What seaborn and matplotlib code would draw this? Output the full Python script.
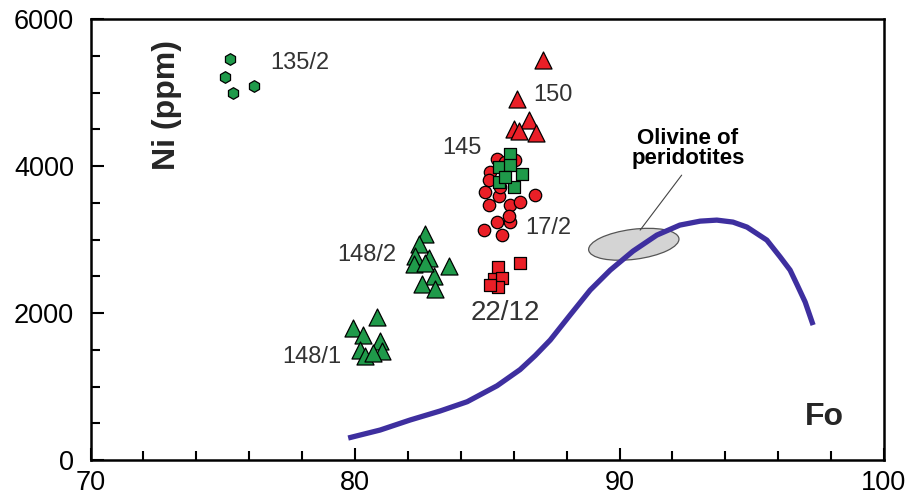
import matplotlib
matplotlib.use("Agg")
import matplotlib.pyplot as plt
import matplotlib.transforms as mtransforms
from matplotlib.patches import Ellipse
from matplotlib.ticker import MultipleLocator
import seaborn as sns

sns.set_style("ticks")
plt.rcParams['font.family'] = ['Liberation Sans', 'DejaVu Sans']

# Olivine compositions: Fo (mol %) vs Ni (ppm)
fo_135_2 = [75.27, 75.10, 75.40, 76.17]
ni_135_2 = [5462, 5216, 4992, 5082]

fo_148_1 = [80.82, 79.94, 80.31, 80.95, 80.19, 80.38, 81.01, 80.69]
ni_148_1 = [1950, 1794, 1704, 1615, 1503, 1413, 1481, 1459]

fo_148_2 = [82.65, 82.40, 82.27, 82.78, 82.21, 83.57, 82.97, 82.53, 83.03, 82.65]
ni_148_2 = [3069, 2935, 2778, 2755, 2667, 2644, 2510, 2398, 2331, 2684]

fo_150 = [87.11, 86.11, 86.56, 86.02, 86.20, 86.84]
ni_150 = [5449, 4912, 4626, 4500, 4478, 4446]

fo_17_2 = [85.37, 85.11, 85.05, 86.82, 85.05, 85.87, 85.43, 84.86, 85.37, 85.87,
           85.56, 85.81, 85.68, 86.06, 84.92, 86.25, 85.49]
ni_17_2 = [4097, 3919, 3807, 3606, 3472, 3472, 3597, 3136, 3238, 3238,
           3060, 3315, 4053, 4080, 3650, 3516, 3717]

fo_145 = [85.87, 85.43, 86.31, 85.43, 86.00, 85.84, 85.68]
ni_145 = [4164, 3986, 3896, 3784, 3717, 4009, 3852]

fo_22_12 = [86.25, 85.39, 85.24, 85.55, 85.39, 85.11]
ni_22_12 = [2675, 2621, 2465, 2479, 2353, 2375]

# Reference curve of Ni in olivine
curve_fo = [79.74, 80.95, 82.08, 83.21, 84.24, 85.37, 86.24, 86.81, 87.38,
            88.13, 88.89, 89.65, 90.51, 91.41, 92.28, 93.05, 93.68, 94.29,
            94.82, 95.57, 96.07, 96.45, 96.72, 97.02, 97.32]
curve_ni = [299, 408, 544, 666, 793, 1010, 1230, 1420, 1632,
            1972, 2312, 2584, 2842, 3060, 3196, 3250, 3264, 3237,
            3169, 2992, 2765, 2584, 2380, 2149, 1836]

group_labels = ["135/2", "150", "145", "17/2", "22/12", "148/2", "148/1"]
label_fo = [76.79, 86.74, 84.79, 86.43, 85.70, 81.58, 79.50]
label_ni = [5395, 4964, 4239, 3151, 1995, 2788, 1405]
label_ha = ["left", "left", "right", "left", "center", "right", "right"]
label_size = [17, 17, 17, 17, 20, 17, 17]

RED = "#ea1f27"
GREEN = "#1f9a4a"
CURVE = "#3e2f9f"

fig = plt.figure(figsize=(9.06, 4.98), dpi=100)
ax = fig.add_axes([0.1, 0.0763, 0.8757, 0.8855])

# Peridotite olivine field
peri = Ellipse((0, 0), width=91, height=30, angle=7.3,
               facecolor="#d4d4d4", edgecolor="#555555", linewidth=0.9, zorder=2,
               transform=mtransforms.Affine2D().scale(fig.dpi / 100)
               + mtransforms.ScaledTranslation(90.54, 2935, ax.transData))
ax.add_patch(peri)
ax.plot([92.35, 90.78], [3876, 3128], color="#444444", lw=0.8, zorder=2)

sns.lineplot(x=curve_fo, y=curve_ni, sort=False, estimator=None, color=CURVE,
             linewidth=3.8, ax=ax, zorder=4, solid_joinstyle="round",
             solid_capstyle="butt")

kw = dict(edgecolor="black", linewidth=0.9, ax=ax, zorder=3, legend=False)
sns.scatterplot(x=fo_135_2, y=ni_135_2, marker="h", s=70, color=GREEN, **kw)
sns.scatterplot(x=fo_148_1, y=ni_148_1, marker="^", s=150, color=GREEN, **kw)
sns.scatterplot(x=fo_148_2, y=ni_148_2, marker="^", s=150, color=GREEN, **kw)
sns.scatterplot(x=fo_150, y=ni_150, marker="^", s=150, color=RED, **kw)
sns.scatterplot(x=fo_17_2, y=ni_17_2, marker="o", s=80, color=RED, **kw)
sns.scatterplot(x=fo_145, y=ni_145, marker="s", s=80, color=GREEN, **kw)
sns.scatterplot(x=fo_22_12, y=ni_22_12, marker="s", s=80, color=RED, **kw)

for t, x, y, ha, fs in zip(group_labels, label_fo, label_ni, label_ha, label_size):
    ax.text(x, y, t, ha=ha, va="center", fontsize=fs, color="#333333", zorder=5)

ax.text(92.59, 4243, "Olivine of\nperidotites", ha="center", va="center",
        fontsize=16, fontweight="bold", linespacing=0.95, color="black")

ax.text(0.096, 0.805, "Ni (ppm)", transform=ax.transAxes, rotation=90,
        ha="center", va="center", fontsize=23, fontweight="bold")
ax.text(0.900, 0.0986, "Fo", transform=ax.transAxes, ha="left", va="center",
        fontsize=23, fontweight="bold")

ax.set_xlim(70, 100)
ax.set_ylim(0, 6000)
ax.set_xticks([70, 80, 90, 100])
ax.xaxis.set_minor_locator(MultipleLocator(2))
ax.yaxis.set_major_locator(MultipleLocator(2000))
ax.yaxis.set_minor_locator(MultipleLocator(500))
ax.set_xlabel("")
ax.set_ylabel("")
ax.tick_params(which="both", direction="in", top=False, right=False,
               width=1.5, colors="black", labelsize=19.5)
ax.tick_params(which="major", length=9)
ax.tick_params(which="minor", length=6.5)
ax.tick_params(axis="x", pad=7)
ax.tick_params(axis="y", pad=12)
for sp in ax.spines.values():
    sp.set_linewidth(1.8)
    sp.set_color("black")
    sp.set_visible(True)

fig.savefig("out.png", dpi=100)
